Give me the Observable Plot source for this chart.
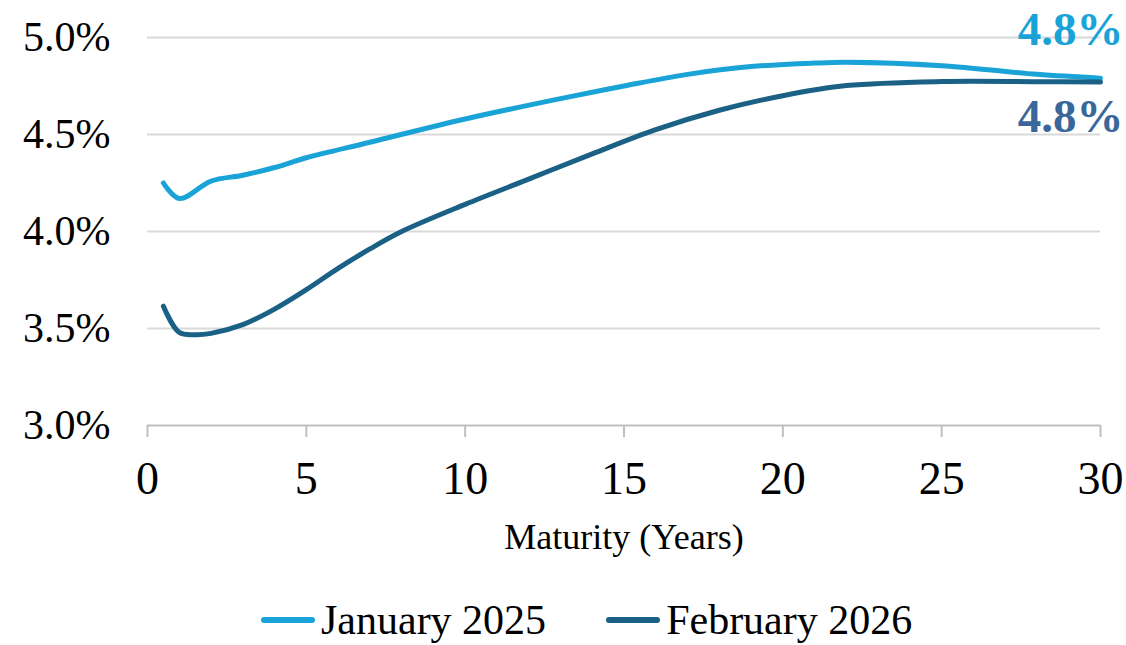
<!DOCTYPE html>
<html>
<head>
<meta charset="utf-8">
<script src="https://cdn.jsdelivr.net/npm/d3@7"></script>
<script src="https://cdn.jsdelivr.net/npm/@observablehq/plot@0.6"></script>
<style>
  html, body { margin: 0; padding: 0; background: #fff; overflow: hidden; }
  body { width: 1126px; height: 645px; font-family: "Liberation Serif", "Times New Roman", serif; }
  #legend { display: flex; align-items: center; height: 50px; padding-left: 261px; padding-top: 5px; font-size: 42px; color: #000; line-height: 1; }
  .item { display: flex; align-items: center; margin-right: 60px; }
  .sw { width: 54px; height: 6px; border-radius: 3px; margin-right: 6px; }
</style>
</head>
<body>
<div id="chart"></div>
<div id="legend"></div>
<script>
const seriesNames = ["January 2025", "February 2026"];
const seriesColors = ["#1aa3d6", "#1a6185"];
const labelColors = ["#1aa3d6", "#3a6799"];
const endLabels = ["4.8%", "4.8%"];

const jan2025Maturity = [0.5, 1, 2, 3, 4, 5, 7, 10, 13, 15, 17, 19, 21, 22, 25, 28, 30];
const jan2025Yield    = [4.25, 4.17, 4.26, 4.29, 4.33, 4.38, 4.46, 4.58, 4.685, 4.75, 4.81, 4.85, 4.868, 4.872, 4.855, 4.81, 4.79];

const feb2026Maturity = [0.5, 1, 1.5, 2, 3, 4, 5, 6, 7, 8, 10, 12, 14, 16, 18, 20, 22, 25, 28, 30];
const feb2026Yield    = [3.615, 3.48, 3.468, 3.475, 3.52, 3.60, 3.70, 3.81, 3.91, 4.00, 4.14, 4.27, 4.40, 4.525, 4.625, 4.70, 4.752, 4.773, 4.772, 4.77];

const xTicks = [0, 5, 10, 15, 20, 25, 30];
const yTicks = [3.0, 3.5, 4.0, 4.5, 5.0];
const xTitle = "Maturity (Years)";

const rows = [
  ...jan2025Maturity.map((m, i) => ({series: seriesNames[0], maturity: m, y: jan2025Yield[i]})),
  ...feb2026Maturity.map((m, i) => ({series: seriesNames[1], maturity: m, y: feb2026Yield[i]}))
];
const lastPts = [
  {series: seriesNames[0], maturity: jan2025Maturity.at(-1), y: jan2025Yield.at(-1), label: endLabels[0]},
  {series: seriesNames[1], maturity: feb2026Maturity.at(-1), y: feb2026Yield.at(-1), label: endLabels[1]}
];

const plot = Plot.plot({
  width: 1126,
  height: 590,
  marginLeft: 147,
  marginRight: 26,
  marginTop: 37,
  marginBottom: 165,
  style: {fontFamily: "'Liberation Serif', 'Times New Roman', serif", background: "#fff", overflow: "visible"},
  x: {domain: [0, 30], ticks: xTicks},
  y: {domain: [3.0, 5.0], ticks: yTicks},
  color: {domain: seriesNames, range: seriesColors},
  marks: [
    Plot.gridY(yTicks.slice(1), {stroke: "#d9d9d9", strokeOpacity: 1, strokeWidth: 2}),
    Plot.ruleY([3.0], {stroke: "#bfbfbf", strokeWidth: 2}),
    Plot.axisX(xTicks, {tickSize: 12, tickPadding: 24, stroke: "#bfbfbf", strokeWidth: 2, fontSize: 46, fill: "#000", label: null, tickFormat: d => String(d)}),
    Plot.axisY(yTicks, {tickSize: 0, tickPadding: 37, fontSize: 42, fill: "#000", label: null, tickFormat: d => d.toFixed(1) + "%"}),
    Plot.text([xTitle], {frameAnchor: "bottom", dy: 112, fontSize: 36, fill: "#000", lineAnchor: "middle"}),
    Plot.line(rows, {x: "maturity", y: "y", z: "series", stroke: "series", strokeWidth: 5, curve: "catmull-rom", strokeLinecap: "round", strokeLinejoin: "round"}),
    Plot.text(lastPts.slice(0, 1), {x: "maturity", y: "y", text: "label", dx: 23, dy: -48, textAnchor: "end", fontSize: 47, fontWeight: "bold", fill: labelColors[0]}),
    Plot.text(lastPts.slice(1), {x: "maturity", y: "y", text: "label", dx: 23, dy: 35, textAnchor: "end", fontSize: 47, fontWeight: "bold", fill: labelColors[1]})
  ]
});
document.getElementById("chart").appendChild(plot);

const legend = document.getElementById("legend");
seriesNames.forEach((name, i) => {
  const item = document.createElement("div");
  item.className = "item";
  const sw = document.createElement("div");
  sw.className = "sw";
  sw.style.background = seriesColors[i];
  const t = document.createElement("span");
  t.textContent = name;
  item.appendChild(sw);
  item.appendChild(t);
  legend.appendChild(item);
});
</script>
</body>
</html>
